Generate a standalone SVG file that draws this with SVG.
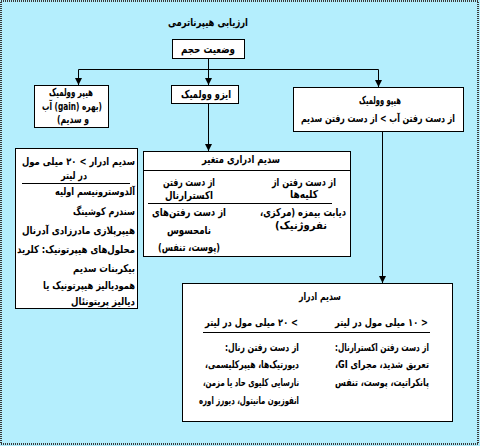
<svg xmlns="http://www.w3.org/2000/svg" width="480" height="446" viewBox="0 0 480 446">
<defs>
<marker id="ah" markerUnits="userSpaceOnUse" markerWidth="8" markerHeight="8" refX="7" refY="3.5" orient="auto">
<path d="M0,0 L7,3.5 L0,7 z" fill="#000"/>
</marker>
</defs>
<style>
.t{font-family:"DejaVu Sans",sans-serif;font-size:11px;font-weight:bold;fill:#000;direction:rtl}
.s{font-size:10.5px}
.c{text-anchor:middle}
.r{text-anchor:start}
.box{fill:#fff;stroke:#000;stroke-width:1}
.ln{stroke:#000;stroke-width:1;fill:none}
.ar{stroke:#000;stroke-width:1;fill:none;marker-end:url(#ah)}
</style>
<rect x="0" y="0" width="480" height="446" fill="#b4eefd"/>
<rect x="1" y="1" width="477" height="443" fill="none" stroke="#3a3a3a" stroke-width="2" stroke-dasharray="1 1"/>

<g id="title"><text class="t c" x="208" y="26" font-size="11.5" textLength="80" lengthAdjust="spacingAndGlyphs">ارزیابی هیپرناترمی</text></g>

<g id="volume"><rect class="box" x="172.5" y="39.5" width="72" height="19"/><text class="t c" x="208" y="53" textLength="54" lengthAdjust="spacingAndGlyphs">وضعیت حجم</text></g>

<g id="hyper"><rect class="box" x="34.5" y="85.5" width="74" height="42"/>
<text class="t c" x="71" y="96" textLength="44" lengthAdjust="spacingAndGlyphs">هیپر وولمیک</text>
<text class="t c" x="72" y="110" textLength="60" lengthAdjust="spacingAndGlyphs">(بهره (gain) آب</text>
<text class="t c" x="73" y="123" textLength="32" lengthAdjust="spacingAndGlyphs">و سدیم)</text></g>

<g id="iso"><rect class="box" x="171.5" y="85.5" width="67" height="18"/><text class="t c" x="206" y="98" textLength="50" lengthAdjust="spacingAndGlyphs">ایزو وولمیک</text></g>

<g id="hypo"><rect class="box" x="293.5" y="87.5" width="170" height="44"/>
<text class="t c" x="380" y="104" textLength="42" lengthAdjust="spacingAndGlyphs">هیپو وولمیک</text>
<text class="t s c" x="378" y="122" textLength="154" lengthAdjust="spacingAndGlyphs">از دست رفتن آب &gt; از دست رفتن سدیم</text></g>

<g id="variable"><rect class="box" x="143.5" y="151.5" width="207" height="105"/>
<line class="ln" x1="143.5" y1="170.5" x2="350.5" y2="170.5"/>
<line class="ln" x1="148" y1="203.5" x2="332" y2="203.5"/>
<text class="t c" x="241" y="163" textLength="78" lengthAdjust="spacingAndGlyphs">سدیم ادراری متغیر</text>
<text class="t c" x="304" y="186" textLength="64" lengthAdjust="spacingAndGlyphs">از دست رفتن از</text>
<text class="t c" x="304" y="198" textLength="28" lengthAdjust="spacingAndGlyphs">کلیه&#x200C;ها</text>
<text class="t c" x="303" y="216" textLength="86" lengthAdjust="spacingAndGlyphs">دیابت بیمزه (مرکزی،</text>
<text class="t c" x="301" y="229" textLength="52" lengthAdjust="spacingAndGlyphs">نفروژنیک)</text>
<text class="t c" x="189" y="186" textLength="52" lengthAdjust="spacingAndGlyphs">از دست رفتن</text>
<text class="t c" x="189" y="199" textLength="48" lengthAdjust="spacingAndGlyphs">اکسترارنال</text>
<text class="t c" x="189" y="216" textLength="74" lengthAdjust="spacingAndGlyphs">از دست رفتن&#x200C;های</text>
<text class="t c" x="189" y="234" textLength="44" lengthAdjust="spacingAndGlyphs">نامحسوس</text>
<text class="t c" x="189" y="251" textLength="62" lengthAdjust="spacingAndGlyphs">(پوست، تنفس)</text></g>

<g id="high"><rect class="box" x="15.5" y="148.5" width="122" height="160"/>
<line class="ln" x1="22" y1="183.5" x2="130" y2="183.5"/>
<text class="t s r" x="135" y="165" textLength="113" lengthAdjust="spacingAndGlyphs">سدیم ادرار &gt; ۲۰ میلی مول</text>
<text class="t s c" x="74" y="179" textLength="26" lengthAdjust="spacingAndGlyphs">در لیتر</text>
<text class="t s r" x="135" y="195" textLength="80" lengthAdjust="spacingAndGlyphs">آلدوسترونیسم اولیه</text>
<text class="t s r" x="135" y="215" textLength="62" lengthAdjust="spacingAndGlyphs">سندرم کوشینگ</text>
<text class="t s r" x="135" y="234" textLength="113" lengthAdjust="spacingAndGlyphs">هیپرپلازی مادرزادی آدرنال</text>
<text class="t s r" x="135" y="253" textLength="118" lengthAdjust="spacingAndGlyphs">محلول&#x200C;های هیپرتونیک: کلرید</text>
<text class="t s r" x="135" y="272" textLength="62" lengthAdjust="spacingAndGlyphs">بیکربنات سدیم</text>
<text class="t s r" x="135" y="289" textLength="92" lengthAdjust="spacingAndGlyphs">همودیالیز هیپرتونیک یا</text>
<text class="t s r" x="135" y="305" textLength="64" lengthAdjust="spacingAndGlyphs">دیالیز پریتونئال</text></g>

<g id="urine"><rect class="box" x="182.5" y="283.5" width="270" height="138"/>
<line class="ln" x1="203" y1="332.5" x2="430" y2="332.5"/>
<text class="t s c" x="320" y="300" textLength="42" lengthAdjust="spacingAndGlyphs">سدیم ادرار</text>
<text class="t s r" x="428" y="326" textLength="93" lengthAdjust="spacingAndGlyphs">&lt; ۱۰ میلی مول در لیتر</text>
<text class="t s r" x="429" y="351" textLength="94" lengthAdjust="spacingAndGlyphs">از دست رفتن اکسترارنال:</text>
<text class="t s r" x="429" y="368" textLength="94" lengthAdjust="spacingAndGlyphs">تعریق شدید، مجرای GI،</text>
<text class="t s r" x="429" y="386" textLength="94" lengthAdjust="spacingAndGlyphs">پانکراتیت، پوست، تنفس</text>
<text class="t s r" x="298" y="326" textLength="93" lengthAdjust="spacingAndGlyphs">&gt; ۲۰ میلی مول در لیتر</text>
<text class="t s r" x="299" y="351" textLength="74" lengthAdjust="spacingAndGlyphs">از دست رفتن رنال:</text>
<text class="t s r" x="299" y="368" textLength="94" lengthAdjust="spacingAndGlyphs">دیورتیک&#x200C;ها، هیپرکلیسمی،</text>
<text class="t s r" x="299" y="386" textLength="96" lengthAdjust="spacingAndGlyphs">نارسایی کلیوی حاد یا مزمن،</text>
<text class="t s r" x="299" y="404" textLength="100" lengthAdjust="spacingAndGlyphs">انفوزیون مانیتول، دیورز اوره</text></g>

<g id="connectors">
<path class="ln" d="M208.5,58 V69.5"/>
<path class="ln" d="M78.5,69.5 H378.5"/>
<path class="ar" d="M78.5,69.5 V85"/>
<path class="ar" d="M208.5,69.5 V85"/>
<path class="ar" d="M378.5,69.5 V87"/>
<path class="ar" d="M208.5,103.5 V151"/>
<path class="ar" d="M382.5,131.5 V283"/>
</g>
</svg>
